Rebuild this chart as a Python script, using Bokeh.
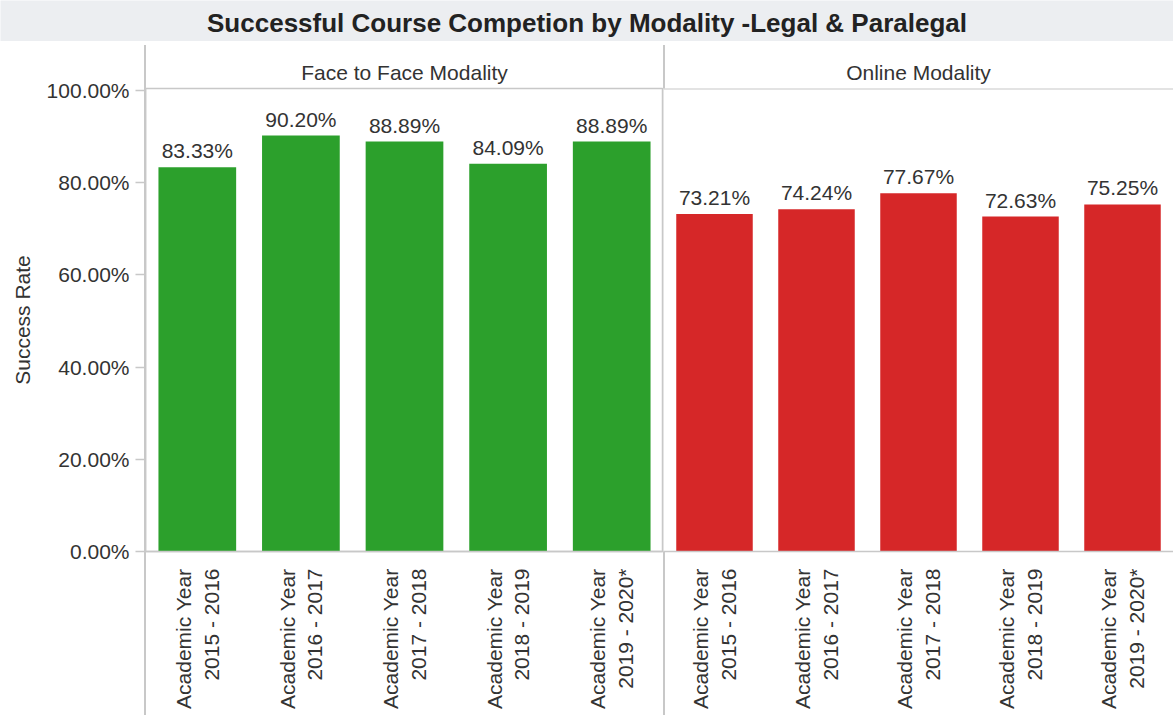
import math
from bokeh.plotting import figure
from bokeh.models import (ColumnDataSource, FactorRange, Range1d, FixedTicker,
                          PrintfTickFormatter, Label, Span)
from bokeh.layouts import column, row
from bokeh.embed import file_html
from bokeh.resources import INLINE
from bokeh.core.properties import value

# ---------------- data ----------------
chart_title = "Successful Course Competion by Modality -Legal & Paralegal"
modalities = ["Face to Face Modality", "Online Modality"]
year_prefix = "Academic Year"
year_spans = ["2015 - 2016", "2016 - 2017", "2017 - 2018", "2018 - 2019", "2019 - 2020*"]
face_rates = [83.33, 90.20, 88.89, 84.09, 88.89]
online_rates = [73.21, 74.24, 77.67, 72.63, 75.25]
y_ticks = [0, 20, 40, 60, 80, 100]
y_title = "Success Rate"

# ---------------- style ----------------
FONT = "Liberation Sans"
TXT = "#333333"
LINE = "#c8c8c8"
GREEN = "#2ca02c"
RED = "#d62728"
FS = "21px"

LEFT_BORDER = 145
LEFT_FRAME = 518
RIGHT_FRAME = 510
TOP = 43
BOTTOM = 161
FRAME_H = 463
TITLE_H = 41

# Arial/Liberation Sans advance widths (em) used to right-align the two rotated lines
_W = {"A": .667, "c": .5, "a": .556, "d": .556, "e": .556, "m": .833, "i": .222,
      " ": .278, "Y": .667, "r": .333, "-": .333, "*": .389}


def _width(s):
    return sum(_W.get(ch, .556) for ch in s)


def year_label(span):
    pad = max(0, round((_width(year_prefix) - _width(span)) / .278))
    return year_prefix + "\n" + "\u00a0" * pad + span


years = [year_label(s) for s in year_spans]


def panel(title, rates, color, first):
    src = ColumnDataSource(dict(year=years, rate=rates,
                                label=[f"{r:.2f}%" for r in rates]))
    p = figure(
        x_range=FactorRange(*years), y_range=Range1d(0, 100.4),
        frame_height=FRAME_H,
        frame_width=LEFT_FRAME if first else RIGHT_FRAME,
        min_border_left=LEFT_BORDER if first else 0, min_border_right=0,
        min_border_top=TOP, min_border_bottom=BOTTOM,
        toolbar_location=None, output_backend="svg", title=title,
        y_axis_location="left" if first else None,
        border_fill_color=None, background_fill_color="white",
        outline_line_color=LINE if first else None, outline_line_width=1.5,
    )
    p.vbar(x="year", top="rate", width=0.75, source=src,
           fill_color=color, line_color=None)
    p.text(x="year", y="rate", text="label", source=src, text_align="center",
           text_baseline="bottom", y_offset=-5, text_font=value(FONT),
           text_font_size="21px", text_color=TXT)
    if not first:
        p.add_layout(Span(location=p.y_range.end, dimension="width",
                          line_color=LINE, line_width=2))
    p.xgrid.visible = False
    p.ygrid.visible = False

    t = p.title
    t.align = "center"
    t.text_font = FONT
    t.text_font_size = FS
    t.text_font_style = "normal"
    t.text_color = TXT
    t.standoff = 10

    xa = p.xaxis[0]
    xa.major_label_orientation = math.pi / 2
    xa.major_label_text_font = FONT
    xa.major_label_text_font_size = FS
    xa.major_label_text_color = TXT
    xa.major_label_standoff = 11
    xa.major_tick_line_color = None
    xa.minor_tick_line_color = None
    xa.axis_line_color = LINE
    xa.axis_line_width = 1.5

    if first:
        ya = p.yaxis[0]
        ya.ticker = FixedTicker(ticks=y_ticks)
        ya.formatter = PrintfTickFormatter(format="%.2f%%")
        ya.major_label_text_font = FONT
        ya.major_label_text_font_size = FS
        ya.major_label_text_color = TXT
        ya.major_label_standoff = 6
        ya.major_tick_out = 10
        ya.major_tick_in = 0
        ya.major_tick_line_color = LINE
        ya.major_tick_line_width = 1.5
        ya.minor_tick_line_color = None
        ya.axis_line_color = LINE
        ya.axis_line_width = 1.5
        ya.axis_label = y_title
        ya.axis_label_text_font = FONT
        ya.axis_label_text_font_size = FS
        ya.axis_label_text_font_style = "normal"
        ya.axis_label_text_color = TXT
        ya.axis_label_standoff = 10
        x0 = LEFT_BORDER - 1
        p.styles = {"background": f"linear-gradient(to right, transparent {x0}px, "
                    f"{LINE} {x0}px, {LINE} {x0 + 2}px, transparent {x0 + 2}px)"}
    else:
        p.styles = {"background": f"linear-gradient(to right, {LINE} 0px, "
                    f"{LINE} 2px, transparent 2px)"}
    return p


total_w = LEFT_BORDER + LEFT_FRAME + RIGHT_FRAME

# title bar
pt = figure(width=total_w, height=TITLE_H, x_range=(0, 1), y_range=(0, 1),
            toolbar_location=None, output_backend="svg",
            x_axis_location=None, y_axis_location=None, min_border=0,
            background_fill_color="#eceef1", border_fill_color="#eceef1",
            outline_line_color=None)
pt.xgrid.visible = False
pt.ygrid.visible = False
pt.add_layout(Label(x=0.5, y=0.45, text=chart_title, text_align="center",
                    text_baseline="middle", text_font=FONT,
                    text_font_size="26px", text_font_style="bold",
                    text_color="#222222"))

p1 = panel(modalities[0], face_rates, GREEN, True)
p2 = panel(modalities[1], online_rates, RED, False)

layout = column(pt, row(p1, p2, spacing=0), spacing=4)

open("out.html", "w").write(file_html(layout, INLINE))
